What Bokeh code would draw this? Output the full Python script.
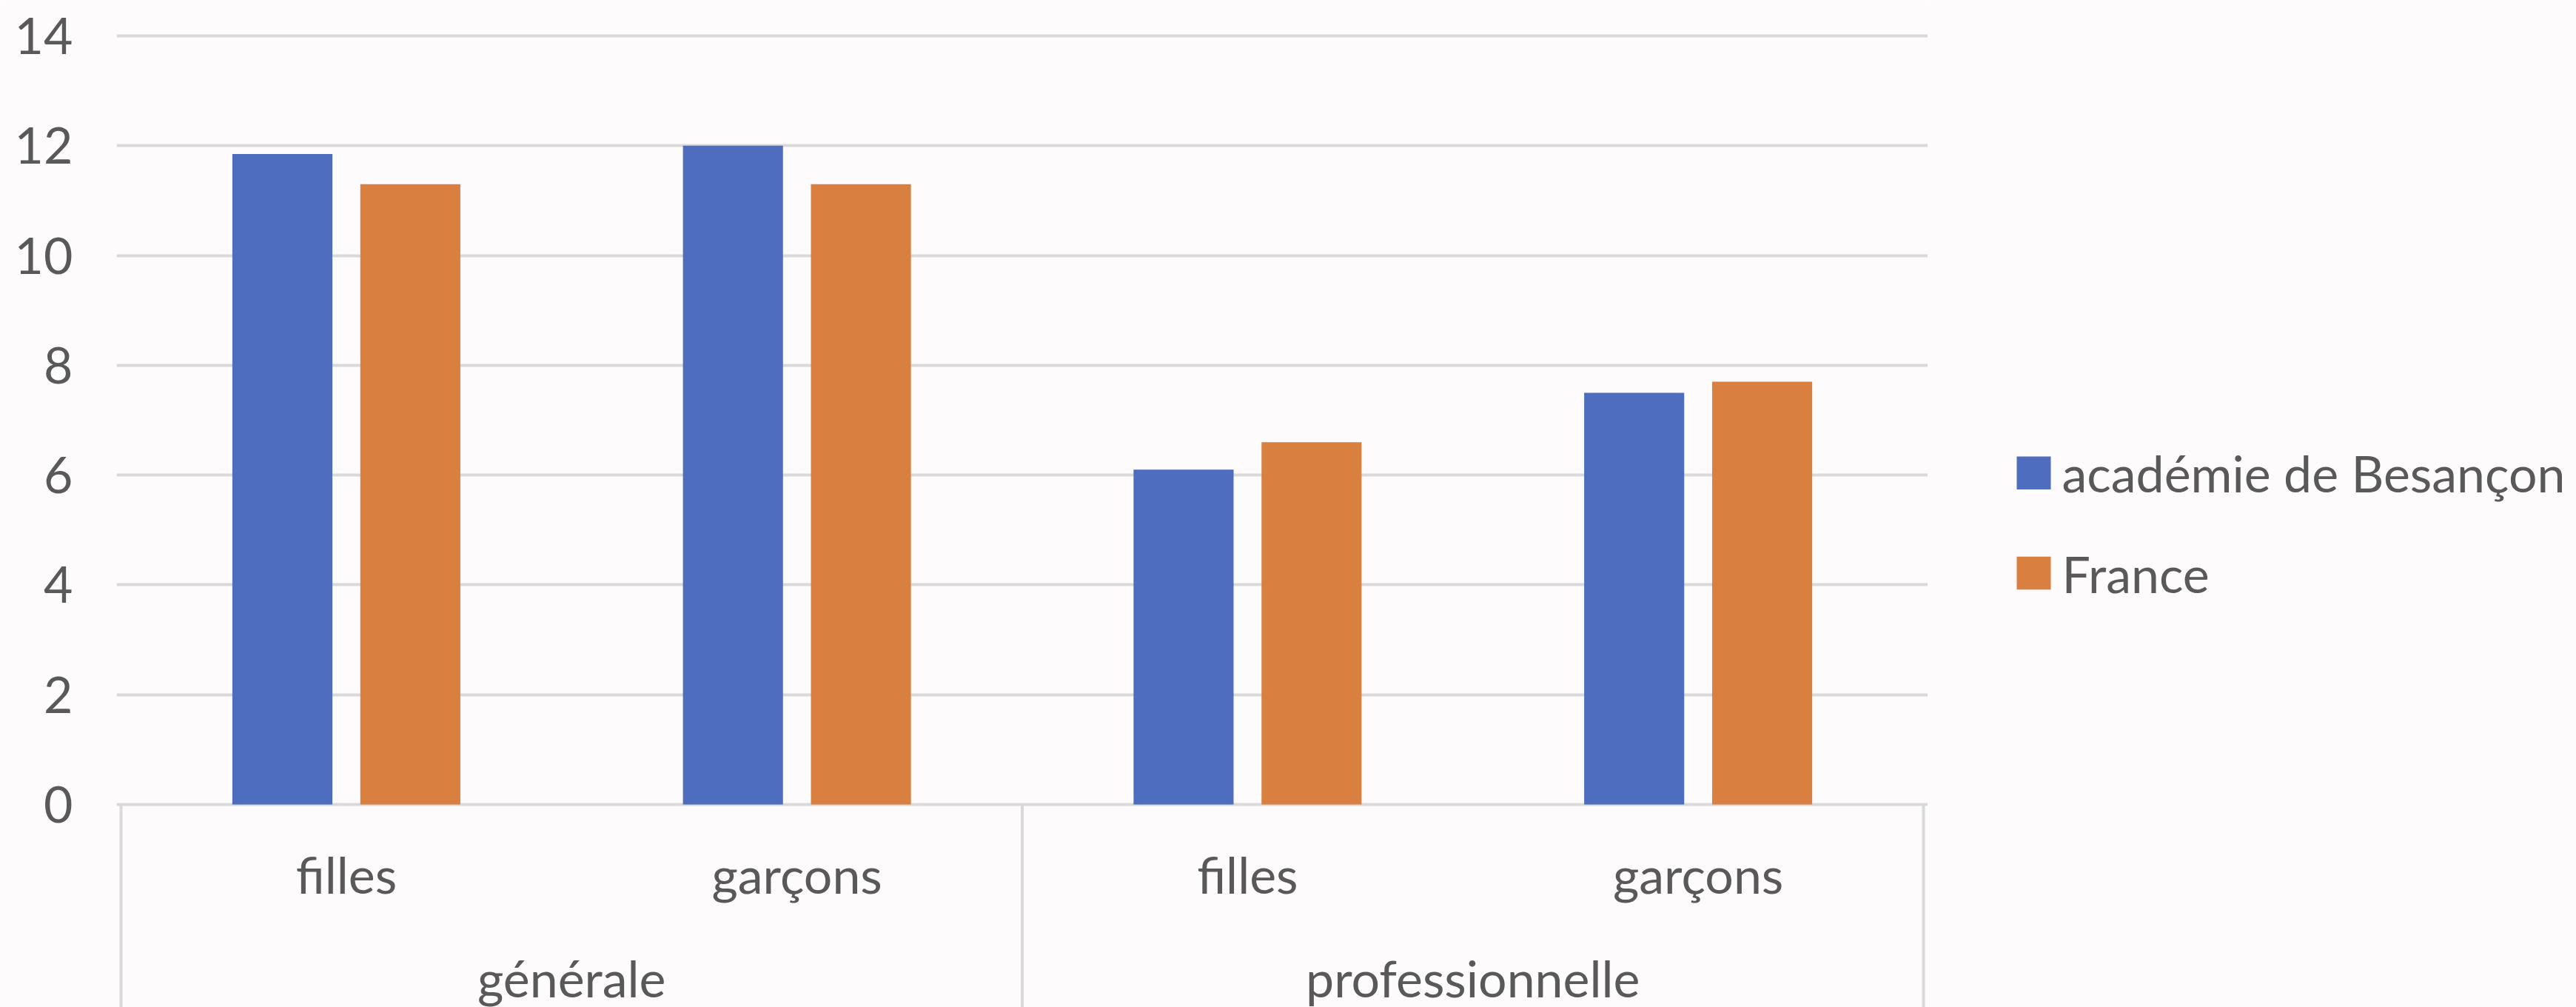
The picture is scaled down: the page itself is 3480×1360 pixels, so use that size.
from bokeh.plotting import figure
from bokeh.layouts import row
from bokeh.models import ColumnDataSource, Range1d, FixedTicker
from bokeh.core.properties import value
from bokeh.embed import file_html
from bokeh.resources import INLINE

# Data
filieres = ["générale", "professionnelle"]
sexes = ["filles", "garçons"]
series_names = ["académie de Besançon", "France"]
besancon = [11.85, 12.0, 6.1, 7.5]
france = [11.3, 11.3, 6.6, 7.7]
y_ticks = [0, 2, 4, 6, 8, 10, 12, 14]

# Styling
BLUE = "#4f6dbf"
ORANGE = "#d97f3f"
COLORS = [BLUE, ORANGE]
GRID = "#d9d9d9"
TEXT = "#595959"
BG = "#fefbfd"
FONT = "Lato"
FONT_SIZE = "68px"
BAR_W = 0.222
OFFSET = 0.142

# One slot per (filière, sexe); slot centres at 0.5, 1.5, ...
cats = [(f, s) for f in filieres for s in sexes]
centres = [i + 0.5 for i in range(len(cats))]
n_sub = len(sexes)
group_centres = [g * n_sub + n_sub / 2 for g in range(len(filieres))]
bounds = [g * n_sub for g in range(len(filieres) + 1)]

src = ColumnDataSource(dict(
    x_bes=[c - OFFSET for c in centres],
    x_fra=[c + OFFSET for c in centres],
    besancon=besancon, france=france))

x_range = Range1d(-0.0099, len(cats) + 0.0099)
y_range = Range1d(-3.696, 14.054)

p = figure(width=2604, height=1360, x_range=x_range, y_range=y_range,
           output_backend="svg", toolbar_location=None, x_axis_location=None,
           min_border_left=157, min_border_right=0, min_border_top=44,
           min_border_bottom=0)
p.background_fill_color = BG
p.border_fill_color = BG
p.outline_line_color = None

# Value axis
yax = p.yaxis[0]
yax.ticker = FixedTicker(ticks=y_ticks)
yax.axis_line_color = None
yax.major_tick_line_color = None
yax.minor_tick_line_color = None
yax.major_tick_in = 0
yax.major_tick_out = 0
yax.major_label_standoff = 59
yax.major_label_text_font = FONT
yax.major_label_text_font_size = FONT_SIZE
yax.major_label_text_color = TEXT

p.xgrid.grid_line_color = None
p.ygrid.ticker = FixedTicker(ticks=y_ticks)
p.ygrid.grid_line_color = GRID
p.ygrid.grid_line_width = 4

# Bars
p.vbar(x="x_bes", top="besancon", width=BAR_W, source=src,
       fill_color=BLUE, line_color=None)
p.vbar(x="x_fra", top="france", width=BAR_W, source=src,
       fill_color=ORANGE, line_color=None)

# Category box below the bars: separators at group boundaries
p.segment(x0=bounds, y0=[0] * len(bounds), x1=bounds,
          y1=[y_range.start] * len(bounds), line_color=GRID, line_width=4)

# Category labels (sexe on the first row, filière on the second)
p.text(x=centres, y=[-1.27] * len(cats), text=[c[1] for c in cats],
       text_align="center", text_baseline="alphabetic",
       text_font=value(FONT), text_font_size=FONT_SIZE, text_color=TEXT)
p.text(x=group_centres, y=[-3.15] * len(filieres), text=filieres,
       text_align="center", text_baseline="alphabetic",
       text_font=value(FONT), text_font_size=FONT_SIZE, text_color=TEXT)

# Legend panel to the right, laid out in pixel units from its top-left corner
leg = figure(width=876, height=1360, x_range=Range1d(0, 876),
             y_range=Range1d(1360, 0), output_backend="svg",
             toolbar_location=None, x_axis_location=None, y_axis_location=None,
             min_border=0)
leg.background_fill_color = BG
leg.border_fill_color = BG
leg.outline_line_color = None
leg.grid.grid_line_color = None

SW_LEFT, SW_SIZE, FIRST_TOP, PITCH, LABEL_X = 120, 46, 591, 140, 181
tops = [FIRST_TOP + i * PITCH for i in range(len(series_names))]
leg.quad(left=[SW_LEFT] * len(tops), right=[SW_LEFT + SW_SIZE] * len(tops),
         top=tops, bottom=[t + SW_SIZE for t in tops],
         fill_color=COLORS, line_color=None)
leg.text(x=[LABEL_X] * len(tops), y=[t + SW_SIZE / 2 for t in tops],
         text=series_names, text_align="left", text_baseline="middle",
         text_font=value(FONT), text_font_size=FONT_SIZE, text_color=TEXT)

open("out.html", "w").write(file_html(row(p, leg), INLINE))
